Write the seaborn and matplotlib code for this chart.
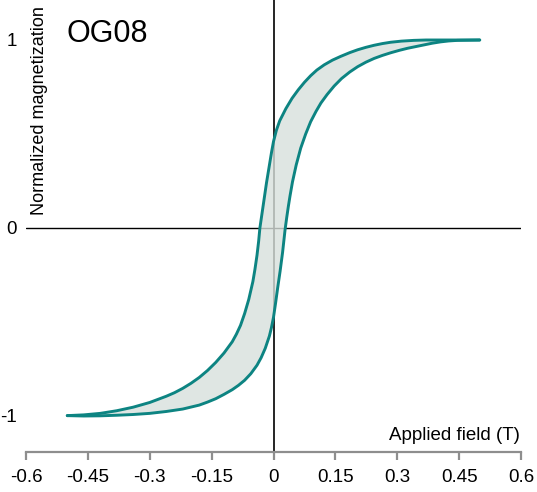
import numpy as np
import pandas as pd
import matplotlib
matplotlib.use("Agg")
import matplotlib.pyplot as plt
import seaborn as sns

# Hysteresis loop of sample OG08: normalized magnetization vs applied field (T)
sample_name = "OG08"

# Descending-field branch (upper curve), ordered by field
upper_field = [-0.50, -0.46, -0.42, -0.38, -0.34, -0.30, -0.26, -0.24, -0.22, -0.20,
               -0.18, -0.16, -0.14, -0.12, -0.10, -0.09, -0.08, -0.07, -0.06, -0.05,
               -0.045, -0.04, -0.036, -0.033, -0.028, -0.023, -0.017, -0.011, -0.005,
               0.0, 0.007, 0.015, 0.03, 0.045, 0.06, 0.075, 0.09, 0.105, 0.123,
               0.143, 0.163, 0.185, 0.204, 0.224, 0.244, 0.264, 0.284, 0.31, 0.34,
               0.37, 0.43, 0.50]
upper_mag = [-0.998, -0.994, -0.986, -0.972, -0.953, -0.928, -0.895, -0.876, -0.853, -0.826,
             -0.795, -0.758, -0.715, -0.665, -0.605, -0.565, -0.518, -0.455, -0.38, -0.285,
             -0.22, -0.145, -0.07, 0.0, 0.075, 0.150, 0.24, 0.32, 0.40,
             0.46, 0.52, 0.57, 0.635, 0.69, 0.735, 0.775, 0.81, 0.84, 0.868,
             0.893, 0.913, 0.933, 0.948, 0.961, 0.972, 0.981, 0.988, 0.994, 0.998,
             1.0, 1.0, 1.0]

# Ascending-field branch (lower curve), ordered by field
lower_field = [-0.50, -0.46, -0.42, -0.38, -0.34, -0.30, -0.26, -0.22, -0.18, -0.16,
               -0.14, -0.12, -0.10, -0.085, -0.07, -0.055, -0.04, -0.03, -0.02, -0.01,
               -0.005, 0.0, 0.005, 0.01, 0.016, 0.022, 0.025, 0.028, 0.032, 0.036,
               0.04, 0.046, 0.055, 0.066, 0.078, 0.09, 0.103, 0.115, 0.13, 0.147,
               0.165, 0.185, 0.204, 0.224, 0.244, 0.264, 0.284, 0.305, 0.325, 0.345,
               0.365, 0.385, 0.405, 0.425, 0.446, 0.50]
lower_mag = [-0.998, -1.0, -0.999, -0.996, -0.992, -0.986, -0.976, -0.963, -0.942, -0.926,
             -0.908, -0.885, -0.86, -0.837, -0.81, -0.775, -0.73, -0.69, -0.64, -0.575,
             -0.53, -0.475, -0.40, -0.32, -0.23, -0.13, -0.07, -0.01, 0.055, 0.115,
             0.17, 0.245, 0.335, 0.425, 0.50, 0.565, 0.62, 0.665, 0.71, 0.755,
             0.795, 0.83, 0.858, 0.882, 0.902, 0.918, 0.932, 0.945, 0.956, 0.965,
             0.974, 0.983, 0.99, 0.995, 0.998, 1.0]

x_ticks = [-0.6, -0.45, -0.3, -0.15, 0, 0.15, 0.3, 0.45, 0.6]
x_tick_labels = ["-0.6", "-0.45", "-0.3", "-0.15", "0", "0.15", "0.3", "0.45", "0.6"]
y_ticks = [-1, 0, 1]
y_tick_labels = ["-1", "0", "1"]

sns.set_style("white")
plt.rcParams["font.family"] = ["Liberation Sans", "DejaVu Sans"]
plt.rcParams["text.color"] = "black"
plt.rcParams["axes.labelcolor"] = "black"

teal = "#0d8482"
fill_col = "#d8e0dc"
axis_grey = "#8e8e8e"

fig = plt.figure(figsize=(5.37, 4.92), dpi=100)
W, H = 537, 492
ax_left, ax_right, ax_top, ax_bottom = 26, 521, 0, 452
ax = fig.add_axes([ax_left / W, 1 - ax_bottom / H,
                   (ax_right - ax_left) / W, (ax_bottom - ax_top) / H])

# zero lines
ax.axhline(0, color="black", lw=1.0, zorder=1)
ax.axvline(0, color="black", lw=1.2, zorder=1)

# shaded loop area
loop_x = list(upper_field) + list(lower_field[::-1])
loop_y = list(upper_mag) + list(lower_mag[::-1])
ax.fill(loop_x, loop_y, color=fill_col, alpha=0.8, lw=0, zorder=2)

upper_df = pd.DataFrame({"field": upper_field, "mag": upper_mag})
lower_df = pd.DataFrame({"field": lower_field, "mag": lower_mag})
for df in (upper_df, lower_df):
    sns.lineplot(data=df, x="field", y="mag", sort=False, color=teal,
                 linewidth=2.1, ax=ax, zorder=3,
                 solid_joinstyle="round", solid_capstyle="round")

# y limits chosen so y=1 and y=-1 sit at fixed positions
ax.set_xlim(-0.6, 0.6)
ax.set_ylim(-224 / 188, 228 / 188)

for side in ("top", "right", "left"):
    ax.spines[side].set_visible(False)
ax.spines["bottom"].set_color(axis_grey)
ax.spines["bottom"].set_linewidth(1.6)
ax.spines["bottom"].set_bounds(-0.6, 0.6)

ax.set_xticks(x_ticks)
ax.set_xticklabels(x_tick_labels)
ax.set_yticks(y_ticks)
ax.set_yticklabels(y_tick_labels)
ax.tick_params(axis="x", direction="out", length=5.5, width=1.6, color=axis_grey,
               labelsize=13.5, pad=7, labelcolor="black", bottom=True)
ax.tick_params(axis="y", length=0, labelsize=13.5, pad=6.5, labelcolor="black", left=True)

ax.set_xlabel("Applied field (T)", fontsize=13.5, ha="right", va="center")
ax.xaxis.set_label_coords((520 - ax_left) / (ax_right - ax_left), 1 - 436 / 452)
ax.set_ylabel("Normalized magnetization", fontsize=13, va="center")
ax.yaxis.set_label_coords((40 - ax_left) / (ax_right - ax_left), 1 - 111 / 452)

ax.text((67 - ax_left) / (ax_right - ax_left), 1 - 42 / 452, sample_name,
        transform=ax.transAxes, fontsize=22, ha="left", va="baseline")

fig.savefig("out.png", dpi=100)
